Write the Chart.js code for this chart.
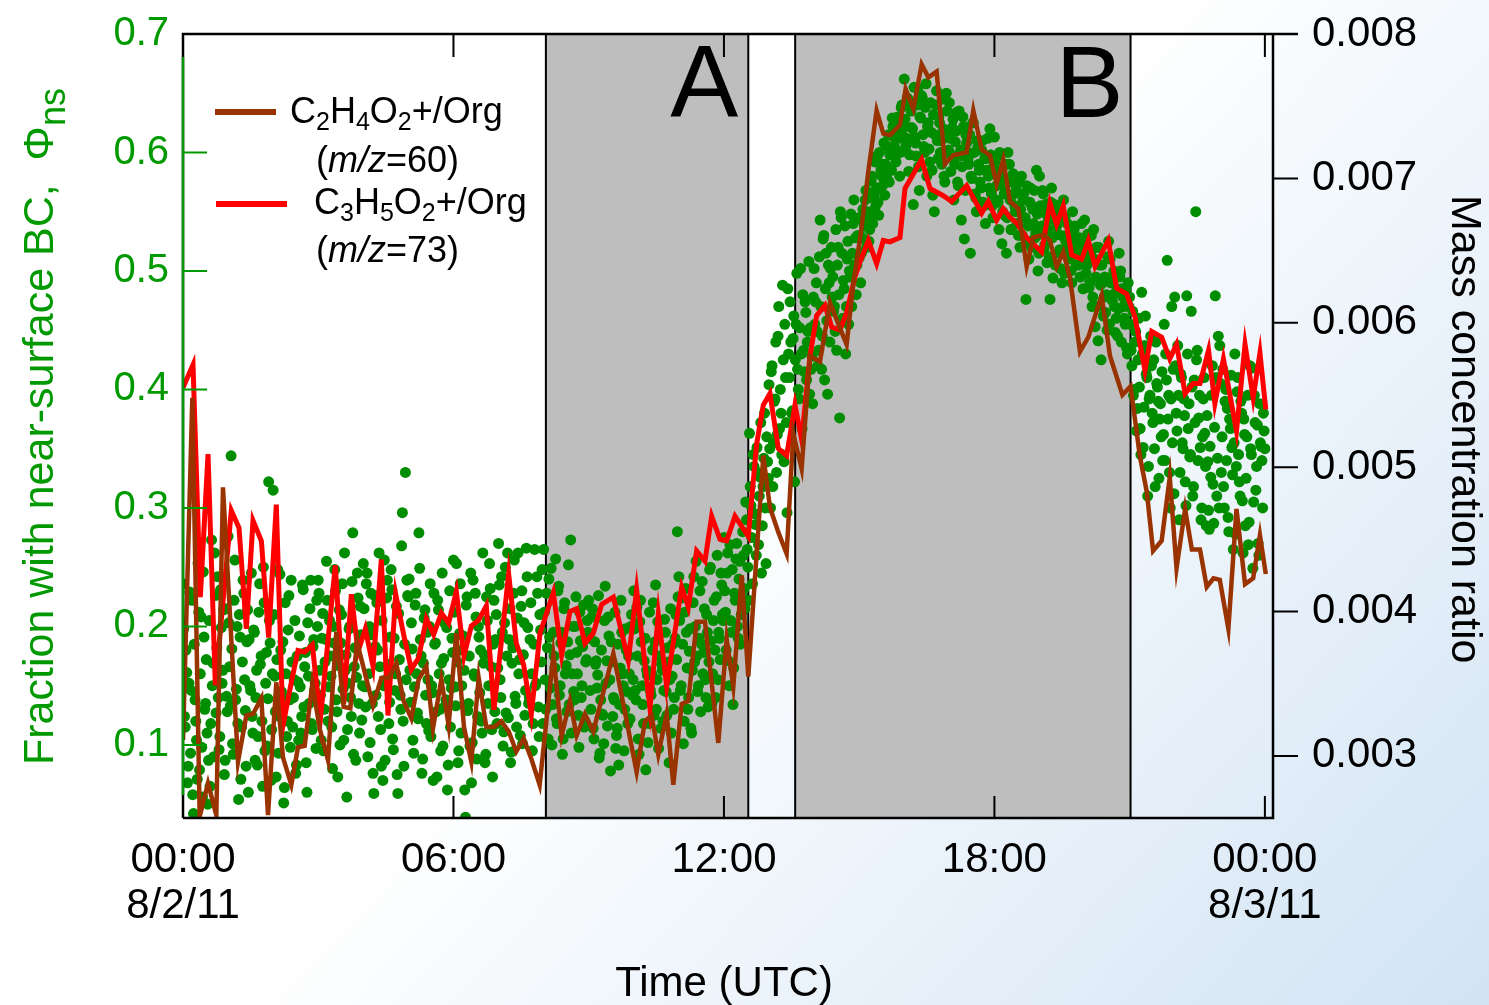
<!DOCTYPE html>
<html><head><meta charset="utf-8">
<script src="https://cdn.jsdelivr.net/npm/chart.js@4.4.1/dist/chart.umd.min.js"></script>
<style>
html,body{margin:0;padding:0;width:1489px;height:1005px;overflow:hidden;
background:linear-gradient(133deg,#ffffff 0%,#ffffff 48%,#f3f8fc 61%,#e5eff9 78%,#d1e4f4 100%);}
canvas{display:block}
</style></head><body>
<canvas id="c" width="1489" height="1005"></canvas>
<script>
const FONT = '"Liberation Sans", Arial, Helvetica, sans-serif';
const GREEN = '#009a00';
const DOT_GREEN = '#008e00';
const RED = '#ff0000';
const BROWN = '#993300';
const SHADE = '#bebebe';

// ---- axes / ticks ----
const xTickValues = [0, 6, 12, 18, 24];
const xTickLabels = [['00:00', '8/2/11'], '06:00', '12:00', '18:00', ['00:00', '8/3/11']];
const leftTickValues = [0.1, 0.2, 0.3, 0.4, 0.5, 0.6, 0.7];
const leftTickLabels = ['0.1', '0.2', '0.3', '0.4', '0.5', '0.6', '0.7'];
const rightTickValues = [0.003, 0.004, 0.005, 0.006, 0.007, 0.008];
const rightTickLabels = ['0.003', '0.004', '0.005', '0.006', '0.007', '0.008'];
const xRange = [0, 24.18];
const leftRange = [0.0383, 0.7];
const rightRange = [0.00257, 0.008];

// ---- shaded periods (hours UTC) ----
const shadedStart = [8.05, 13.58];
const shadedEnd = [12.54, 21.02];
const shadedNames = ['A', 'B'];

// ---- fraction with near-surface BC: even minutes (00:00, 00:02, ... 24:00) ----
const phiStepHours = 1 / 30;
const phiNearSurface = [
/*00h*/ .236,.124,.180,.068,.152,.093,.222,.042,.138,.104,.253,.079,.208,.056,.191,.135,.110,.087,.065,.273,.169,.262,.127,.242,.096,.231,.152,.214,.087,.141,
/*01h*/ .276,.166,.344,.101,.222,.138,.200,.054,.191,.115,.239,.155,.082,.214,.189,.146,.124,.197,.087,.163,.107,.236,.175,.065,.220,.152,.099,.322,.186,.113,
/*02h*/ .315,.158,.073,.248,.124,.180,.141,.051,.220,.107,.197,.138,.239,.115,.155,.076,.175,.104,.149,.124,.231,.166,.085,.203,.135,.239,.113,.189,.152,.222,
/*03h*/ .239,.163,.104,.211,.130,.189,.222,.149,.175,.115,.200,.248,.138,.073,.214,.186,.236,.104,.163,.056,.152,.200,.124,.279,.166,.087,.245,.135,.217,.121,
/*04h*/ .253,.149,.236,.090,.200,.228,.135,.059,.183,.220,.124,.166,.082,.070,.256,.155,.239,.118,.191,.231,.096,.146,.217,.059,.172,.130,.296,.082,.330,.239,
/*05h*/ .225,.163,.203,.104,.149,.228,.127,.279,.189,.076,.169,.214,.118,.155,.200,.107,.144,.228,.186,.073,.214,.130,.169,.099,.203,.138,.062,.155,.115,.190,
/*06h*/ .256,.149,.253,.085,.194,.110,.180,.163,.039,.225,.135,.099,.068,.239,.158,.208,.124,.191,.180,.110,.169,.085,.225,.135,.253,.166,.073,.222,.189,.118,
/*07h*/ .270,.155,.242,.099,.203,.127,.262,.189,.085,.169,.228,.141,.115,.262,.172,.217,.101,.203,.146,.242,.135,.189,.160,.118,.265,.152,.228,.107,.197,.248,
/*08h*/ .265,.155,.228,.105,.191,.249,.134,.175,.257,.118,.234,.150,.195,.105,.220,.167,.187,.134,.273,.160,.145,.200,.178,.125,.212,.140,.183,.115,.170,.205,
/*09h*/ .222,.146,.208,.114,.187,.171,.159,.089,.138,.126,.101,.234,.171,.208,.155,.187,.124,.138,.097,.114,.083,.165,.195,.150,.130,.180,.118,.160,.200,.142,
/*10h*/ .230,.146,.216,.105,.204,.187,.134,.171,.079,.159,.118,.146,.160,.220,.187,.130,.204,.175,.114,.163,.146,.195,.125,.170,.155,.110,.185,.140,.210,.280,
/*11h*/ .242,.146,.224,.101,.212,.195,.130,.179,.114,.163,.242,.200,.175,.150,.230,.185,.160,.215,.140,.195,.170,.250,.135,.205,.180,.225,.155,.190,.245,.210,
/*12h*/ .275,.212,.245,.171,.269,.195,.134,.228,.257,.200,.240,.185,.225,.260,.215,.290,.250,.363,.302,.236,.335,.286,.351,.269,.326,.245,.318,.380,.253,.339,
/*13h*/ .404,.300,.420,.355,.392,.330,.445,.367,.380,.488,.339,.410,.296,.430,.474,.380,.443,.322,.455,.417,.392,.502,.367,.433,.474,.408,.449,.396,.417,.388,
/*14h*/ .502,.474,.449,.433,.543,.417,.527,.408,.515,.396,.490,.502,.478,.466,.449,.433,.520,.376,.545,.460,.485,.430,.510,.455,.495,.470,.540,.505,.480,.530,
/*15h*/ .511,.490,.543,.527,.560,.520,.550,.535,.576,.540,.565,.555,.597,.547,.570,.580,.590,.564,.585,.605,.575,.600,.629,.613,.597,.615,.625,.580,.638,.620,
/*16h*/ .662,.605,.646,.584,.638,.621,.556,.613,.597,.654,.568,.629,.646,.605,.638,.580,.625,.592,.617,.564,.550,.640,.610,.630,.600,.590,.620,.575,.650,.600,
/*17h*/ .642,.584,.621,.560,.609,.634,.572,.597,.543,.630,.527,.615,.600,.590,.515,.578,.625,.565,.550,.605,.585,.570,.610,.555,.540,.595,.580,.620,.565,.545,
/*18h*/ .613,.560,.597,.535,.584,.523,.572,.547,.515,.600,.590,.535,.575,.565,.550,.540,.530,.520,.580,.560,.545,.476,.525,.510,.570,.555,.540,.528,.585,.500,
/*19h*/ .580,.531,.568,.519,.556,.507,.543,.476,.570,.494,.556,.543,.531,.515,.502,.490,.560,.545,.530,.520,.510,.500,.550,.535,.525,.515,.505,.495,.540,.485,
/*20h*/ .543,.498,.531,.486,.515,.470,.535,.453,.520,.441,.505,.425,.490,.478,.465,.450,.525,.510,.495,.480,.470,.460,.445,.515,.500,.485,.470,.455,.435,.490,
/*21h*/ .478,.433,.466,.400,.449,.384,.460,.367,.482,.351,.437,.413,.310,.392,.445,.380,.425,.318,.405,.390,.375,.360,.340,.455,.430,.509,.395,.300,.470,.417,
/*22h*/ .478,.380,.437,.290,.413,.355,.392,.322,.479,.367,.343,.466,.310,.408,.550,.433,.376,.351,.300,.392,.363,.285,.339,.282,.326,.420,.287,.479,.310,.445,
/*23h*/ .437,.330,.417,.300,.400,.384,.280,.367,.351,.265,.430,.335,.410,.322,.390,.306,.375,.285,.360,.269,.420,.345,.249,.395,.315,.370,.260,.355,.340,.380,
/*24h*/ .350
];
// ---- fraction with near-surface BC: odd minutes (00:01, 00:03, ... 23:59) ----
const phiNearSurfaceOdd = [
/*00h*/ .198,.115,.161,.082,.229,.146,.058,.185,.120,.071,.212,.160,.098,.246,.130,.172,.050,.205,.118,.150,.090,.226,.182,.140,.107,.199,.163,.075,.215,.128,
/*01h*/ .203,.133,.181,.092,.256,.147,.118,.210,.071,.170,.228,.129,.187,.060,.150,.245,.110,.195,.140,.083,.212,.168,.120,.250,.095,.178,.139,.205,.070,.160,
/*02h*/ .210,.128,.172,.093,.244,.145,.187,.064,.160,.120,.226,.098,.170,.140,.205,.083,.153,.192,.110,.235,.132,.178,.060,.158,.215,.118,.183,.146,.097,.200,
/*03h*/ .228,.142,.190,.095,.170,.255,.120,.205,.158,.080,.186,.230,.128,.167,.100,.210,.147,.262,.176,.113,.198,.140,.238,.092,.182,.157,.224,.110,.193,.150,
/*04h*/ .215,.132,.245,.160,.102,.193,.076,.226,.142,.180,.262,.113,.205,.150,.087,.224,.168,.136,.248,.105,.190,.160,.075,.211,.142,.268,.120,.185,.155,.226,
/*05h*/ .240,.136,.181,.093,.218,.160,.122,.249,.175,.088,.207,.142,.195,.112,.236,.150,.070,.185,.128,.222,.160,.095,.245,.173,.133,.199,.083,.230,.148,.178,
/*06h*/ .212,.133,.170,.095,.236,.150,.192,.062,.218,.129,.175,.245,.102,.160,.228,.088,.200,.144,.120,.262,.176,.092,.205,.150,.232,.113,.185,.128,.210,.165,
/*07h*/ .235,.140,.195,.111,.250,.175,.123,.215,.094,.182,.256,.135,.207,.160,.108,.230,.176,.125,.266,.199,.140,.220,.095,.185,.150,.242,.132,.210,.170,.118,
/*08h*/ .212,.130,.182,.240,.148,.100,.195,.165,.122,.230,.142,.186,.092,.215,.160,.128,.252,.176,.110,.200,.138,.225,.160,.098,.188,.150,.218,.120,.172,.195,
/*09h*/ .190,.130,.215,.105,.168,.148,.226,.093,.180,.125,.205,.152,.116,.192,.078,.170,.140,.212,.108,.185,.134,.222,.160,.095,.198,.145,.175,.122,.210,.155,
/*10h*/ .198,.138,.175,.092,.222,.150,.118,.190,.163,.102,.212,.142,.180,.125,.235,.155,.097,.195,.168,.120,.206,.145,.182,.085,.215,.158,.130,.190,.172,.225,
/*11h*/ .205,.150,.185,.120,.232,.165,.140,.198,.110,.220,.170,.255,.145,.190,.128,.238,.178,.155,.210,.132,.248,.188,.160,.222,.140,.260,.195,.172,.235,.205,
/*12h*/ .230,.180,.262,.150,.205,.248,.165,.222,.270,.190,.255,.210,.280,.232,.305,.265,.222,.318,.275,.345,.295,.260,.330,.310,.372,.285,.342,.300,.360,.325,
/*13h*/ .350,.415,.318,.390,.440,.362,.470,.400,.345,.425,.455,.372,.485,.410,.440,.382,.462,.425,.498,.400,.452,.430,.480,.415,.465,.440,.508,.452,.428,.478,
/*14h*/ .455,.490,.420,.512,.470,.445,.530,.485,.458,.505,.440,.520,.495,.470,.535,.505,.480,.550,.515,.492,.538,.470,.525,.500,.548,.515,.560,.528,.505,.545,
/*15h*/ .530,.515,.552,.538,.568,.545,.525,.562,.580,.548,.592,.570,.558,.600,.585,.572,.608,.590,.578,.615,.598,.585,.622,.605,.592,.630,.612,.600,.640,.625,
/*16h*/ .628,.612,.645,.598,.635,.620,.655,.608,.640,.588,.630,.648,.615,.600,.658,.622,.603,.642,.585,.632,.615,.652,.595,.625,.610,.645,.580,.618,.635,.602,
/*17h*/ .612,.598,.628,.590,.618,.575,.635,.602,.588,.622,.568,.608,.595,.615,.580,.625,.600,.562,.610,.590,.575,.602,.558,.595,.585,.612,.570,.598,.555,.588,
/*18h*/ .592,.572,.558,.600,.580,.550,.565,.590,.545,.575,.560,.535,.582,.555,.568,.540,.575,.552,.530,.565,.545,.572,.538,.558,.520,.552,.568,.532,.548,.515,
/*19h*/ .555,.538,.565,.522,.548,.535,.512,.558,.528,.545,.505,.538,.552,.518,.530,.545,.498,.525,.540,.512,.532,.490,.522,.538,.505,.515,.528,.495,.520,.508,
/*20h*/ .525,.505,.515,.490,.530,.478,.510,.495,.470,.520,.488,.505,.462,.495,.480,.512,.455,.490,.475,.500,.448,.485,.468,.495,.440,.478,.460,.485,.430,.470,
/*21h*/ .455,.420,.395,.440,.365,.425,.402,.345,.430,.385,.462,.410,.335,.395,.420,.372,.350,.440,.402,.325,.388,.415,.362,.340,.408,.375,.330,.392,.355,.312,
/*22h*/ .420,.365,.395,.330,.410,.350,.378,.302,.430,.388,.345,.402,.318,.372,.425,.340,.395,.290,.360,.410,.335,.378,.298,.352,.395,.320,.368,.410,.342,.300,
/*23h*/ .405,.360,.318,.390,.340,.292,.375,.412,.328,.355,.278,.398,.345,.310,.380,.262,.362,.325,.395,.288,.350,.418,.305,.372,.335,.270,.388,.352,.300,.365
];

// ---- C2H4O2+/Org (m/z 60) mass concentration ratio ----
const m60Time = [
 0,0.207,0.370,0.555,0.739,0.887,1.220,1.405,1.553,1.738,
 1.886,2.070,2.218,2.403,2.551,2.699,2.869,3.032,3.217,3.401,
 3.564,3.712,3.860,4.030,4.215,4.400,4.562,4.732,4.895,5.065,
 5.228,5.398,5.546,5.731,5.893,6.063,6.233,6.396,6.559,6.729,
 6.899,7.062,7.224,7.394,7.557,7.727,7.912,8.215,8.400,8.584,
 8.732,8.917,9.102,9.546,10.063,10.248,10.396,10.544,10.729,10.877,
 11.062,11.209,11.394,11.579,11.875,12.060,12.208,12.393,12.540,12.873,
 13.021,13.206,13.391,13.539,13.723,13.909,14.130,14.352,14.537,14.722,
 14.870,15.054,15.203,15.387,15.535,15.683,15.905,16.030,16.201,16.386,
 16.534,16.718,16.903,17.088,17.384,17.532,17.717,17.901,18.049,18.197,
 18.345,18.530,18.715,18.863,19.085,19.232,19.380,19.528,19.676,19.898,
 20.083,20.379,20.564,20.840,21.020,21.230,21.380,21.520,21.710,21.890,
 22.040,22.230,22.380,22.560,22.710,22.860,23.000,23.190,23.370,23.560,
 23.740,23.890,24.020];
const m60Ratio = [
 0.00311,0.00548,0.00258,0.00281,0.00259,0.00486,0.00296,0.00328,0.00329,0.00340,
 0.00259,0.00351,0.00299,0.00280,0.00306,0.00307,0.00350,0.00319,0.00297,0.00386,
 0.00334,0.00333,0.00379,0.00358,0.00335,0.00354,0.00354,0.00364,0.00338,0.00326,
 0.00353,0.00362,0.00319,0.00353,0.00321,0.00385,0.00320,0.00296,0.00354,0.00320,
 0.00320,0.00324,0.00317,0.00303,0.00312,0.00298,0.00280,0.00370,0.00314,0.00338,
 0.00314,0.00329,0.00317,0.00371,0.00289,0.00324,0.00328,0.00301,0.00329,0.00280,
 0.00336,0.00338,0.00393,0.00393,0.00309,0.00381,0.00348,0.00425,0.00355,0.00508,
 0.00472,0.00455,0.00440,0.00523,0.00499,0.00577,0.00573,0.00614,0.00599,0.00585,
 0.00627,0.00666,0.00705,0.00747,0.00731,0.00730,0.00737,0.00762,0.00748,0.00779,
 0.00770,0.00774,0.00710,0.00716,0.00718,0.00747,0.00720,0.00716,0.00696,0.00713,
 0.00684,0.00679,0.00639,0.00659,0.00661,0.00657,0.00639,0.00649,0.00631,0.00580,
 0.00590,0.00619,0.00577,0.00550,0.00556,0.00507,0.00483,0.00442,0.00449,0.00493,
 0.00430,0.00471,0.00443,0.00443,0.00417,0.00423,0.00422,0.00388,0.00471,0.00419,
 0.00423,0.00453,0.00426];

// ---- C3H5O2+/Org (m/z 73) mass concentration ratio ----
const m73Time = [
 0,0.222,0.385,0.555,0.717,1.072,1.242,1.405,1.553,1.738,
 1.900,2.070,2.218,2.403,2.551,2.699,2.869,3.046,3.379,3.564,
 3.734,3.882,4.045,4.215,4.400,4.547,4.718,4.895,5.065,5.228,
 5.398,5.561,5.731,5.893,6.063,6.233,6.396,6.559,6.729,6.899,
 7.062,7.224,7.394,7.557,7.727,7.919,8.215,8.400,8.584,8.732,
 8.917,9.102,9.287,9.546,9.878,10.063,10.359,10.544,10.729,11.062,
 11.209,11.394,11.579,11.727,11.912,12.060,12.245,12.540,12.725,12.873,
 13.021,13.206,13.391,13.576,13.723,13.909,14.056,14.241,14.389,14.574,
 14.722,14.907,15.018,15.203,15.387,15.535,15.683,15.905,16.016,16.386,
 16.571,16.866,17.051,17.384,17.717,17.865,18.049,18.197,18.345,18.493,
 18.715,19.048,19.232,19.380,19.528,19.713,19.935,20.083,20.231,20.526,
 20.711,20.933,21.118,21.340,21.490,21.710,21.890,22.040,22.230,22.410,
 22.560,22.750,22.890,23.080,23.370,23.560,23.740,23.890,24.020];
const m73Ratio = [
 0.00555,0.00571,0.00410,0.00509,0.00349,0.00470,0.00458,0.00388,0.00463,0.00449,
 0.00382,0.00474,0.00321,0.00351,0.00373,0.00372,0.00377,0.00325,0.00432,0.00336,
 0.00412,0.00372,0.00388,0.00362,0.00436,0.00328,0.00412,0.00384,0.00360,0.00368,
 0.00395,0.00384,0.00399,0.00392,0.00414,0.00369,0.00390,0.00394,0.00404,0.00332,
 0.00379,0.00426,0.00378,0.00363,0.00329,0.00385,0.00413,0.00370,0.00400,0.00402,
 0.00378,0.00385,0.00405,0.00410,0.00366,0.00415,0.00333,0.00398,0.00348,0.00417,
 0.00403,0.00442,0.00435,0.00466,0.00450,0.00449,0.00466,0.00452,0.00516,0.00543,
 0.00551,0.00513,0.00508,0.00543,0.00519,0.00577,0.00605,0.00612,0.00597,0.00595,
 0.00607,0.00632,0.00642,0.00657,0.00641,0.00657,0.00656,0.00659,0.00693,0.00713,
 0.00693,0.00688,0.00684,0.00695,0.00676,0.00684,0.00671,0.00679,0.00673,0.00669,
 0.00659,0.00649,0.00683,0.00668,0.00681,0.00647,0.00644,0.00657,0.00639,0.00657,
 0.00624,0.00620,0.00604,0.00567,0.00594,0.00590,0.00575,0.00585,0.00551,0.00558,
 0.00558,0.00581,0.00544,0.00575,0.00525,0.00585,0.00548,0.00579,0.00540];

// ---- build datasets ----
const phiPoints = phiNearSurface.map((v, i) => ({ x: i * phiStepHours, y: v }))
  .concat(phiNearSurfaceOdd.map((v, i) => ({ x: (i + 0.5) * phiStepHours, y: v })));
const m60Points = m60Time.map((t, i) => ({ x: t, y: m60Ratio[i] }));
const m73Points = m73Time.map((t, i) => ({ x: t, y: m73Ratio[i] }));

function richText(ctx, x, y, parts, size, subSize, subDy) {
  let cx = x;
  for (const p of parts) {
    const sz = p.sub ? subSize : size;
    ctx.font = (p.italic ? 'italic ' : '') + sz + 'px ' + FONT;
    ctx.fillText(p.t, cx, y + (p.sub ? subDy : 0));
    cx += ctx.measureText(p.t).width;
  }
  return cx;
}

const decor = {
  id: 'decor',
  beforeDatasetsDraw(chart) {
    const { ctx, chartArea: { top, bottom }, scales: { x } } = chart;
    ctx.save();
    for (let i = 0; i < shadedStart.length; i++) {
      const x1 = x.getPixelForValue(shadedStart[i]);
      const x2 = x.getPixelForValue(shadedEnd[i]);
      ctx.fillStyle = SHADE;
      ctx.fillRect(x1, top, x2 - x1, bottom - top);
      ctx.strokeStyle = '#000';
      ctx.lineWidth = 2;
      ctx.beginPath();
      ctx.moveTo(x1, top); ctx.lineTo(x1, bottom);
      ctx.moveTo(x2, top); ctx.lineTo(x2, bottom);
      ctx.stroke();
    }
    ctx.restore();
  },
  afterDatasetsDraw(chart) {
    const { ctx, chartArea: { left, right, top, bottom }, scales: { x, yL, yR } } = chart;
    ctx.save();
    ctx.lineCap = 'butt';
    // frame
    ctx.strokeStyle = '#000';
    ctx.lineWidth = 2.5;
    ctx.beginPath();
    ctx.moveTo(left, bottom); ctx.lineTo(left, top); ctx.lineTo(right + 25, top);
    ctx.moveTo(left, bottom); ctx.lineTo(right, bottom); ctx.lineTo(right, top);
    ctx.stroke();
    ctx.strokeStyle = GREEN;
    ctx.beginPath();
    ctx.moveTo(left, top + 23); ctx.lineTo(left, bottom - 23);
    ctx.stroke();
    // left ticks (inward, green)
    ctx.lineWidth = 2;
    ctx.beginPath();
    leftTickValues.forEach(v => {
      const y = yL.getPixelForValue(v);
      if (y > top + 5) { ctx.moveTo(left, y); ctx.lineTo(left + 24, y); }
    });
    ctx.stroke();
    // x ticks (inward, top and bottom)
    ctx.strokeStyle = '#000';
    ctx.beginPath();
    xTickValues.forEach(v => {
      const px = x.getPixelForValue(v);
      if (px > left + 5) {
        ctx.moveTo(px, bottom); ctx.lineTo(px, bottom - 22);
        ctx.moveTo(px, top); ctx.lineTo(px, top + 23);
      }
    });
    // right ticks (outward)
    rightTickValues.forEach(v => {
      const y = yR.getPixelForValue(v);
      ctx.moveTo(right, y); ctx.lineTo(right + 25, y);
    });
    ctx.stroke();

    // period labels
    ctx.fillStyle = '#000';
    ctx.textBaseline = 'alphabetic';
    ctx.font = '102px ' + FONT;
    ctx.textAlign = 'right';
    ctx.fillText(shadedNames[0], x.getPixelForValue(shadedEnd[0]) - 10, top + 83);
    ctx.fillText(shadedNames[1], x.getPixelForValue(shadedEnd[1]) - 7, top + 83);
    ctx.textAlign = 'left';

    // legend
    ctx.lineWidth = 6;
    ctx.strokeStyle = BROWN;
    ctx.beginPath(); ctx.moveTo(215, 112); ctx.lineTo(276, 112); ctx.stroke();
    ctx.strokeStyle = RED;
    ctx.beginPath(); ctx.moveTo(216, 204); ctx.lineTo(287, 204); ctx.stroke();
    ctx.fillStyle = '#000';
    richText(ctx, 290, 123, [{t:'C'},{t:'2',sub:1},{t:'H'},{t:'4',sub:1},{t:'O'},{t:'2',sub:1},{t:'+/Org'}], 36, 25, 7);
    richText(ctx, 316, 172, [{t:'('},{t:'m/z',italic:1},{t:'=60)'}], 36, 25, 7);
    richText(ctx, 314, 214, [{t:'C'},{t:'3',sub:1},{t:'H'},{t:'5',sub:1},{t:'O'},{t:'2',sub:1},{t:'+/Org'}], 36, 25, 7);
    richText(ctx, 316, 262, [{t:'('},{t:'m/z',italic:1},{t:'=73)'}], 36, 25, 7);

    // axis titles
    ctx.fillStyle = GREEN;
    ctx.save();
    ctx.translate(53, 765);
    ctx.rotate(-Math.PI / 2);
    richText(ctx, 0, 0, [{t:'Fraction with near-surface BC,  \u03A6'},{t:'ns',sub:1}], 43, 36, 12);
    ctx.restore();

    ctx.fillStyle = '#000';
    ctx.save();
    ctx.translate(1452, 195);
    ctx.rotate(Math.PI / 2);
    ctx.font = '43px ' + FONT;
    ctx.fillText('Mass concentration ratio', 0, 0);
    ctx.restore();

    ctx.textAlign = 'center';
    ctx.font = '42px ' + FONT;
    ctx.fillText('Time (UTC)', 724, 996);
    ctx.restore();
  }
};

const noPadY = s => { s.paddingTop = 0; s.paddingBottom = 0; };

new Chart(document.getElementById('c'), {
  type: 'scatter',
  data: {
    datasets: [
      { label: 'Fraction with near-surface BC', data: phiPoints, yAxisID: 'yL',
        pointRadius: 5.5, pointBackgroundColor: DOT_GREEN, pointBorderWidth: 0, order: 3 },
      { label: 'C3H5O2+/Org (m/z=73)', type: 'line', data: m73Points, yAxisID: 'yR',
        borderColor: RED, borderWidth: 5, pointRadius: 0, tension: 0, fill: false, order: 2 },
      { label: 'C2H4O2+/Org (m/z=60)', type: 'line', data: m60Points, yAxisID: 'yR',
        borderColor: BROWN, borderWidth: 4.5, pointRadius: 0, tension: 0, fill: false, order: 1 }
    ]
  },
  options: {
    responsive: false,
    devicePixelRatio: 1,
    animation: false,
    events: [],
    layout: { autoPadding: false, padding: { top: 34, left: 0, right: 0, bottom: 0 } },
    plugins: { legend: { display: false }, tooltip: { enabled: false }, title: { display: false } },
    scales: {
      x: {
        type: 'linear', position: 'bottom', min: xRange[0], max: xRange[1],
        afterBuildTicks: s => { s.ticks = xTickValues.map(v => ({ value: v })); },
        afterFit: s => { s.height = 187; s.paddingLeft = 0; s.paddingRight = 0; },
        grid: { display: false, drawTicks: false },
        border: { display: false },
        ticks: {
          callback: (v, i) => xTickLabels[i], autoSkip: false, maxRotation: 0, minRotation: 0,
          color: '#000', padding: 19, font: { family: FONT, size: 42, lineHeight: 1.1 }
        }
      },
      yL: {
        type: 'linear', position: 'left', min: leftRange[0], max: leftRange[1],
        afterBuildTicks: s => { s.ticks = leftTickValues.map(v => ({ value: v })); },
        afterFit: s => { s.width = 183; noPadY(s); },
        grid: { display: false, drawTicks: false },
        border: { display: false },
        ticks: { callback: (v, i) => leftTickLabels[i], color: GREEN, padding: 14,
                 font: { family: FONT, size: 40 } }
      },
      yR: {
        type: 'linear', position: 'right', min: rightRange[0], max: rightRange[1],
        afterBuildTicks: s => { s.ticks = rightTickValues.map(v => ({ value: v })); },
        afterFit: s => { s.width = 216; noPadY(s); },
        grid: { display: false, drawTicks: false },
        border: { display: false },
        ticks: { callback: (v, i) => rightTickLabels[i], color: '#000', padding: 39,
                 font: { family: FONT, size: 42 } }
      }
    }
  },
  plugins: [decor]
});
</script>
</body></html>
